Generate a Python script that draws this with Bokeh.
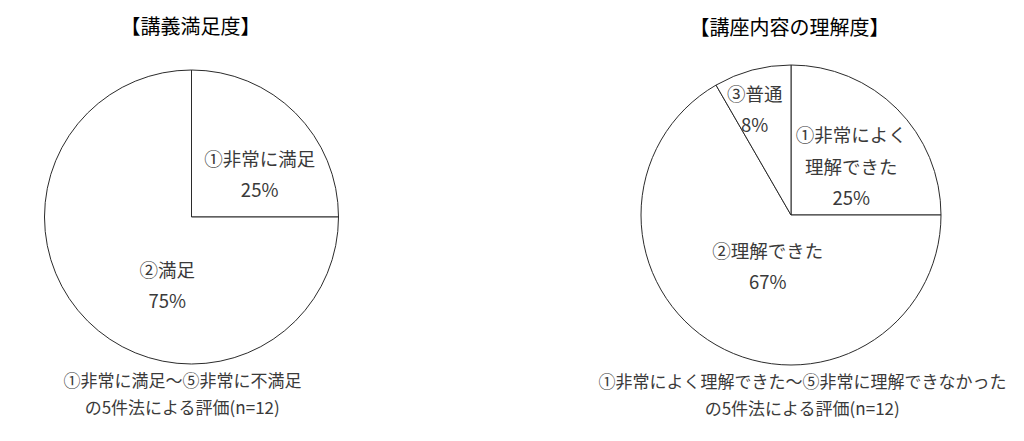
import math
from bokeh.plotting import figure
from bokeh.models import Range1d
from bokeh.core.properties import value
from bokeh.embed import file_html
from bokeh.resources import INLINE

# data
left_title = "【講義満足度】"
left_labels = ["①非常に満足", "②満足"]
left_counts = [3, 9]
left_note = "①非常に満足～⑤非常に不満足\nの5件法による評価(n=12)"

right_title = "【講座内容の理解度】"
right_labels = ["①非常によく\n理解できた", "②理解できた", "③普通"]
right_counts = [3, 8, 1]
right_note = "①非常によく理解できた～⑤非常に理解できなかった\nの5件法による評価(n=12)"

# layout (page pixels)
W, H = 1008, 425
FONT = value("Noto Sans CJK JP")

def px(x):
    return x

def py(y):
    return H - y

p = figure(width=W, height=H, output_backend="svg", toolbar_location=None,
           x_range=Range1d(0, W), y_range=Range1d(0, H), min_border=0)
p.axis.visible = False
p.grid.visible = False
p.outline_line_color = None
p.background_fill_color = "white"

def pie(cx, cy, r, counts, labels, nudges, title, title_pos, note, note_pos):
    cx, cy = px(cx), py(cy)
    total = float(sum(counts))
    starts, ends, texts, lx, ly = [], [], [], [], []
    cum = 0.0
    for c, lab, (nx, ny) in zip(counts, labels, nudges):
        a0 = math.pi / 2 - 2 * math.pi * cum / total
        cum += c
        a1 = math.pi / 2 - 2 * math.pi * cum / total
        starts.append(a0)
        ends.append(a1)
        mid = (a0 + a1) / 2
        lx.append(cx + 0.55 * r * math.cos(mid) + nx)
        ly.append(cy + 0.55 * r * math.sin(mid) - ny)
        texts.append("%s\n%d%%" % (lab, round(100 * c / total)))
    p.wedge(x=cx, y=cy, radius=r, start_angle=starts, end_angle=ends,
            direction="clock", fill_color="white", line_color="#2b2b2b",
            line_width=1)
    p.text(x=lx, y=ly, text=texts, text_align="center", text_baseline="middle",
           text_font=FONT, text_font_size="18.5px", text_color="#3a3a3a",
           text_line_height=1.2)
    p.text(x=[px(title_pos[0])], y=[py(title_pos[1])], text=[title],
           text_align="center", text_baseline="middle", text_font=FONT,
           text_font_size="20px", text_font_style="normal", text_color="#000000")
    p.text(x=[px(note_pos[0])], y=[py(note_pos[1])], text=[note],
           text_align="center", text_baseline="middle", text_font=FONT,
           text_font_size="17px", text_color="#3a3a3a",
           text_line_height=1.1)

pie(191, 216.5, 147, left_counts, left_labels, [(11, 14), (33, 10)],
    left_title, (190, 25), left_note, (182, 392.5))
pie(790.5, 214.5, 150, right_counts, right_labels, [(2, 9), (18, -21), (-15, -27)],
    right_title, (789, 26), right_note, (802, 393.5))

open("out.html", "w").write(file_html(p, INLINE))
